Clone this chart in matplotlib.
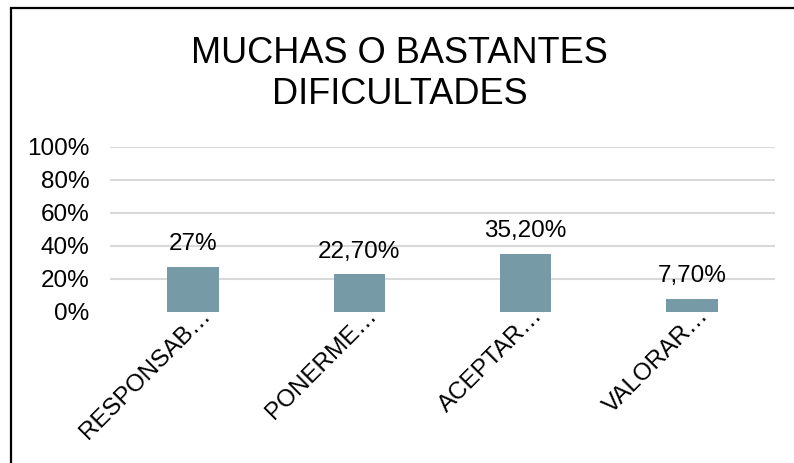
import matplotlib.pyplot as plt
from matplotlib.patches import Rectangle
from matplotlib.transforms import ScaledTranslation

plt.rcParams['font.family'] = ['Liberation Sans', 'DejaVu Sans']

categorias = ['RESPONSAB…', 'PONERME…', 'ACEPTAR…', 'VALORAR…']
valores = [27.0, 22.7, 35.2, 7.7]
etiquetas = ['27%', '22,70%', '35,20%', '7,70%']
yticks = [0, 20, 40, 60, 80, 100]
ytick_labels = ['0%', '20%', '40%', '60%', '80%', '100%']

fig = plt.figure(figsize=(7.94, 4.63), dpi=100)
ax = fig.add_axes([0.1385, 0.3268, 0.8375, 0.3564])

x = range(len(categorias))
ax.bar(x, valores, width=0.31, color='#769AA6', zorder=3)

for i, (v, t) in enumerate(zip(valores, etiquetas)):
    ax.annotate(t, (i, v), xytext=(0, 12), textcoords='offset points',
                ha='center', va='baseline', fontsize=17.5, color='#000000')

ax.set_xlim(-0.5, 3.5)
ax.set_ylim(0, 100)
ax.set_yticks(yticks)
ax.set_yticklabels(ytick_labels, fontsize=17.5)
for y in yticks[1:]:
    ax.axhline(y, color='#D9D9D9', lw=1.5, zorder=1)

ax.set_xticks(list(x))
ax.set_xticklabels(categorias, rotation=45, ha='right', rotation_mode='anchor',
                   fontsize=17.5)
ax.tick_params(axis='both', length=0)
ax.tick_params(axis='y', pad=15)
ax.tick_params(axis='x', pad=-3)
desplaza = ScaledTranslation(0.06, 0.03, fig.dpi_scale_trans)
for lbl in ax.get_xticklabels():
    lbl.set_transform(lbl.get_transform() + desplaza)
for s in ax.spines.values():
    s.set_visible(False)

fig.text(0.503, 0.84, 'MUCHAS O BASTANTES\nDIFICULTADES', ha='center', va='center',
         fontsize=26, linespacing=1.2)

# marco del grafico
fig.patches.append(Rectangle((10.5 / 794, -0.1), 1.2, 1.1 - 8 / 463,
                             transform=fig.transFigure, fill=False,
                             edgecolor='#000000', lw=1.6))

fig.savefig('out.png', dpi=100)
